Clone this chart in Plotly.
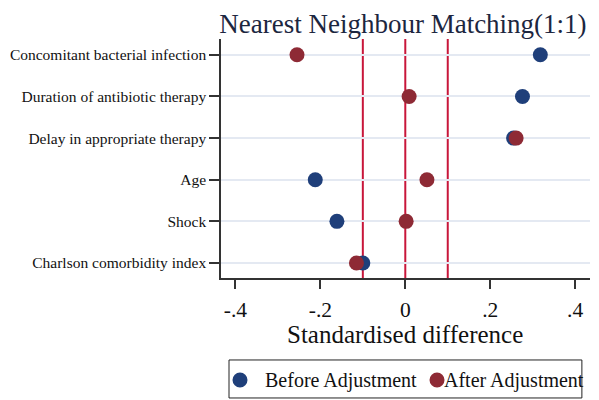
import plotly.graph_objects as go

categories = ["Charlson comorbidity index", "Shock", "Age",
              "Delay in appropriate therapy", "Duration of antibiotic therapy",
              "Concomitant bacterial infection"]
before = [-0.100, -0.161, -0.212, 0.255, 0.276, 0.318]
after = [-0.115, 0.002, 0.051, 0.261, 0.009, -0.255]
series_names = ["Before Adjustment", "After Adjustment"]
series_colors = ["#1F3F7A", "#8E2A35"]
ref_lines = [-0.1, 0, 0.1]
tick_vals = [-0.4, -0.2, 0, 0.2, 0.4]
tick_text = ["-.4", "-.2", "0", ".2", ".4"]

ypos = list(range(1, len(categories) + 1))
FONT = "Liberation Serif, Times New Roman, serif"

fig = go.Figure()
for vals, name, col in zip([before, after], series_names, series_colors):
    fig.add_trace(go.Scatter(x=vals, y=ypos, mode="markers", name=name,
                             marker=dict(color=col, size=15), showlegend=False))

for v in ref_lines:
    fig.add_shape(type="line", xref="x", yref="paper", x0=v, x1=v, y0=0, y1=1,
                  line=dict(color="#C8163A", width=2), layer="below")

# manual legend (box, symbols, labels) below the plot
fig.add_shape(type="rect", xref="paper", yref="paper", x0=0.0217, x1=0.978,
              y0=-0.343, y1=-0.502, line=dict(color="#222222", width=1))
leg_sym_x = [0.0515, 0.5854]
leg_txt_x = [0.1135, 0.599]
leg_y = -0.4268
for sx, tx, name, col in zip(leg_sym_x, leg_txt_x, series_names, series_colors):
    fig.add_shape(type="circle", xref="paper", yref="paper", xsizemode="pixel",
                  ysizemode="pixel", xanchor=sx, yanchor=leg_y, x0=-7.5, x1=7.5,
                  y0=-7.5, y1=7.5, fillcolor=col, line=dict(width=0))
    fig.add_annotation(text=name, xref="paper", yref="paper", x=tx, y=leg_y,
                       xanchor="left", yanchor="middle", showarrow=False,
                       font=dict(size=20, family=FONT, color="#111111"))

# x-axis title
fig.add_annotation(text="Standardised difference", xref="paper", yref="paper",
                   x=0.4986, y=-0.236, xanchor="center", yanchor="middle",
                   showarrow=False, font=dict(size=25, family=FONT, color="#111111"))

fig.update_layout(
    width=599, height=400,
    margin=dict(l=213, r=17, t=31, b=130, autoexpand=False),
    paper_bgcolor="white", plot_bgcolor="white",
    font=dict(family=FONT, color="#111111"),
    title=dict(text="Nearest Neighbour Matching(1:1)", x=0.493, xref="paper",
               xanchor="center", y=0.96, yanchor="middle", yref="container",
               font=dict(size=27, family=FONT, color="#1c2640")),
    showlegend=False,
)
fig.update_xaxes(range=[-0.434, 0.435], tickvals=tick_vals, ticktext=tick_text,
                 ticks="outside", ticklen=9, tickwidth=1.5, tickcolor="#333",
                 showline=True, linecolor="#333", linewidth=1.5, showgrid=False,
                 zeroline=False, tickfont=dict(size=21.5), ticklabelstandoff=2,
                 automargin=False)
fig.update_yaxes(range=[0.64, 6.38], tickvals=ypos, ticktext=categories,
                 ticks="outside", ticklen=10, tickwidth=1.5, tickcolor="#333",
                 showline=True, linecolor="#333", linewidth=1.5, automargin=False,
                 showgrid=True, gridcolor="#E4E9F2", gridwidth=1.5, zeroline=False,
                 tickfont=dict(size=15.5))

fig.write_html("out.html")
